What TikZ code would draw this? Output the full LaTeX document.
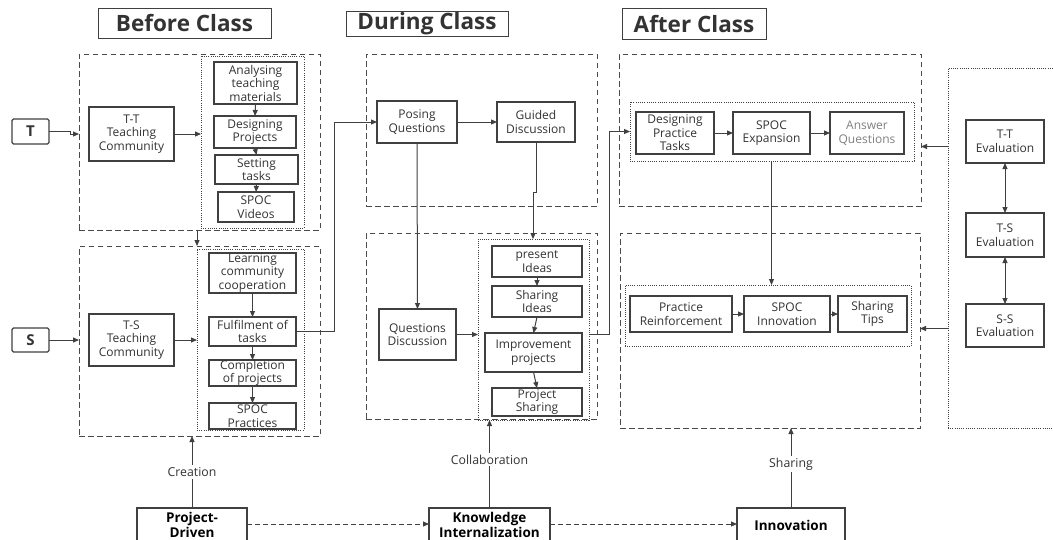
\documentclass[tikz,border=0pt]{standalone}
\usepackage{fontspec}
\setmainfont{Open Sans}
\usetikzlibrary{arrows.meta}
\definecolor{ln}{HTML}{404040}
\definecolor{dln}{HTML}{4A4A4A}
\definecolor{tx}{HTML}{333333}
\definecolor{gtx}{HTML}{808080}
\newcommand\BX[7]{\node[#1, minimum width={(#4-#2)*1pt}, minimum height={(#5-#3)*1pt}] (#6) at ({(#2+#4)/2},{(#3+#5)/2}) {#7};}
\tikzset{
  boxst/.style={draw=ln, line width=1.1pt, fill=white, inner sep=0pt, outer sep=0pt, align=center, text=tx, font=\fontsize{12}{13.5}\selectfont},
  titlest/.style={draw=ln, line width=1pt, fill=white, inner sep=0pt, outer sep=0pt, text=tx, font=\fontsize{22.5}{24}\selectfont\bfseries},
  dashst/.style={draw=dln, line width=1pt, dash pattern=on 5.5pt off 3.5pt, inner sep=0pt, outer sep=0pt},
  dotst/.style={draw=ln, line width=0.8pt, dash pattern=on 1pt off 1.2pt, inner sep=0pt, outer sep=0pt},
  botst/.style={draw=ln, line width=1.1pt, fill=white, inner sep=0pt, outer sep=0pt, align=center, text=black, font=\fontsize{13.5}{15}\selectfont\bfseries},
  arr/.style={draw=ln, line width=1pt, -{Triangle[length=6pt,width=5pt]}},
  darr/.style={draw=ln, line width=1pt, {Triangle[length=6pt,width=5pt]}-{Triangle[length=6pt,width=5pt]}},
  dasharr/.style={draw=ln, line width=1pt, dash pattern=on 5pt off 3pt, -{Triangle[length=6pt,width=5pt]}},
  lab/.style={fill=white, text=tx, inner sep=2pt, font=\fontsize{12.3}{13.5}\selectfont}
}
\begin{document}
\begin{tikzpicture}[x=1pt,y=-1pt]
\useasboundingbox (0,0) rectangle (1053,539);
\clip (0,0) rectangle (1053,539);
% titles
\BX{titlest}{98}{8}{271}{38}{tBefore}{Before Class}
\BX{titlest}{346}{11}{508}{36}{tDuring}{During Class}
\BX{titlest}{622}{8}{766}{39}{tAfter}{After Class}
% containers
\BX{dashst}{79}{54}{320}{230}{bcTop}{}
\BX{dotst}{201}{56}{304}{228}{bcTopDot}{}
\BX{dashst}{79}{246}{320}{436}{bcBot}{}
\BX{dotst}{197}{249}{304}{430}{bcBotDot}{}
\BX{dashst}{366}{54}{597}{206}{dcTop}{}
\BX{dashst}{366}{233}{597}{419}{dcBot}{}
\BX{dotst}{478}{239}{589}{420}{dcDot}{}
\BX{dashst}{619}{54}{921}{206}{acTop}{}
\BX{dotst}{630}{102}{914}{161}{acTopDot}{}
\BX{dashst}{620}{233}{920}{428}{acBot}{}
\BX{dotst}{625}{285}{911}{346}{acBotDot}{}
\BX{dotst}{948}{68}{1090}{428}{evDot}{}
% left
\BX{boxst,rounded corners=1.5pt,font=\fontsize{15}{16}\selectfont\bfseries}{12}{119}{49}{144}{T}{T}
\BX{boxst,rounded corners=1.5pt,font=\fontsize{15}{16}\selectfont\bfseries}{12}{328}{49}{352}{S}{S}
\BX{boxst}{89}{107}{174}{161}{TT}{T-T\\Teaching\\Community}
\BX{boxst}{214}{62}{297}{104}{an}{Analysing\\teaching\\materials}
\BX{boxst}{214}{116}{296}{148}{dp}{Designing\\Projects}
\BX{boxst}{215}{155}{298}{184}{st}{Setting\\tasks}
\BX{boxst}{218}{192}{294}{222}{sv}{SPOC\\Videos}
\BX{boxst}{89}{314}{174}{366}{TS}{T-S\\Teaching\\Community}
\BX{boxst}{209}{253}{296}{293}{lc}{Learning\\community\\cooperation}
\BX{boxst}{209}{317}{296}{346}{ft}{Fulfilment of\\tasks}
\BX{boxst}{209}{360}{296}{386}{cp}{Completion\\of projects}
\BX{boxst}{209}{403}{296}{429}{sp}{SPOC\\Practices}
% during
\BX{boxst}{377}{101}{457}{143}{pq}{Posing\\Questions}
\BX{boxst}{497}{102}{575}{142}{gd}{Guided\\Discussion}
\BX{boxst}{379}{309}{456}{360}{qd}{Questions\\Discussion}
\BX{boxst}{492}{246}{582}{277}{pi}{present\\Ideas}
\BX{boxst}{492}{286}{582}{317}{si}{Sharing\\Ideas}
\BX{boxst}{485}{333}{582}{372}{ip}{Improvement\\projects}
\BX{boxst}{492}{388}{582}{416}{ps}{Project\\Sharing}
% after
\BX{boxst}{636}{112}{714}{154}{dpt}{Designing\\Practice\\Tasks}
\BX{boxst}{733}{112}{810}{154}{se}{SPOC\\Expansion}
\BX{boxst,text=gtx}{830}{112}{904}{154}{aq}{Answer\\Questions}
\BX{boxst}{630}{296}{732}{332}{pr}{Practice\\Reinforcement}
\BX{boxst}{744}{296}{830}{332}{sinn}{SPOC\\Innovation}
\BX{boxst}{838}{296}{907}{332}{stips}{Sharing\\Tips}
% evaluation
\BX{boxst}{966}{120}{1044}{163}{ett}{T-T\\Evaluation}
\BX{boxst}{966}{213}{1044}{257}{ets}{T-S\\Evaluation}
\BX{boxst}{966}{304}{1044}{347}{ess}{S-S\\Evaluation}
% bottom
\BX{botst}{137}{508}{247}{542}{pd}{Project-\\Driven}
\BX{botst}{429}{508}{550}{542}{ki}{Knowledge\\Internalization}
\BX{botst}{737}{508}{845}{542}{inn}{Innovation}
% connectors: before class
\draw[arr] (T.east) -- ++(21,0) |- (bcTop.west |- TT.west);
\draw[arr] (TT.east) -- (bcTopDot.west |- TT.east);
\draw[arr] (an.south) -- (dp.north);
\draw[arr] (dp.south) -- (st.north);
\draw[arr] (st.south) -- (sv.north);
\draw[arr] (bcTop.south -| bcBotDot.west) -- (bcBot.north -| bcBotDot.west);
\draw[arr] (S.east) -- (bcBot.west |- S.east);
\draw[arr] (TS.east) -- (bcBotDot.west |- TS.east);
\draw[arr] (lc.south) -- (ft.north);
\draw[arr] (ft.south) -- (cp.north);
\draw[arr] (cp.south) -- (sp.north);
\draw[arr] (ft.east) -- ++(38,0) |- (pq.west);
% during class
\draw[arr] (pq.east) -- (gd.west);
\draw[arr] (pq.south) -- (qd.north);
\draw[arr] (gd.south) -- ++(0,50) -- ++(-3,0) -- ([xshift=-3pt]dcDot.north -| gd.south);
\draw[arr] (qd.east) -- (dcDot.west |- qd.east);
\draw[arr] (pi.south) -- (si.north);
\draw[arr] (si.south) -- (ip.north);
\draw[arr] (ip.south) -- (ps.north);
\draw[arr] (dcDot.east |- qd.east) -- ++(20,0) |- (acTopDot.west);
% after class
\draw[arr] (dpt.east) -- (se.west);
\draw[arr] (se.east) -- (aq.west);
\draw[arr] (acTopDot.south -| se.south) -- (acBotDot.north -| se.south);
\draw[arr] (pr.east) -- (sinn.west);
\draw[arr] (sinn.east) -- (stips.west);
% evaluation
\draw[arr] ([yshift=-5pt]evDot.west |- ett.west) -- ([yshift=-5pt]acTop.east |- ett.west);
\draw[arr] ([yshift=-3pt]evDot.west |- ess.west) -- ([yshift=-3pt]acBot.east |- ess.west);
\draw[darr] (ett.south) -- (ets.north);
\draw[darr] (ets.south) -- (ess.north);
% bottom
\draw[arr] (pd.north) -- node[lab,pos=0.5]{Creation} (bcBot.south -| pd.north);
\draw[arr] (ki.north) -- node[lab,pos=0.55]{Collaboration} (dcDot.south -| ki.north);
\draw[arr] (inn.north) -- node[lab,pos=0.55]{Sharing} (acBot.south -| inn.north);
\draw[dasharr] (pd.east |- 0,524) -- (ki.west |- 0,524);
\draw[dasharr] (ki.east |- 0,524) -- (inn.west |- 0,524);
\end{tikzpicture}
\end{document}
